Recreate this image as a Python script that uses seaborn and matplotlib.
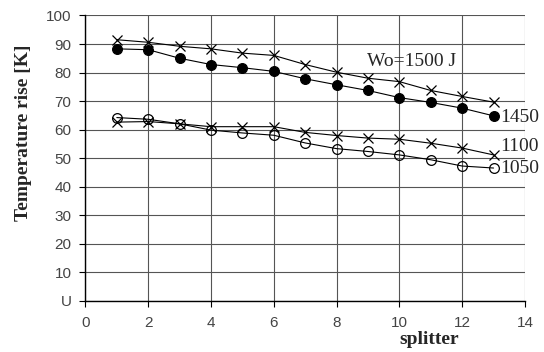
import matplotlib
matplotlib.use("Agg")
import matplotlib.pyplot as plt
import seaborn as sns
import pandas as pd

splitter = [1, 2, 3, 4, 5, 6, 7, 8, 9, 10, 11, 12, 13]
w1500 = [91.5, 90.6, 89.2, 88.3, 86.8, 86.0, 82.8, 80.1, 78.0, 76.8, 73.7, 71.6, 69.6]
w1450 = [88.3, 88.0, 85.0, 82.8, 81.7, 80.4, 77.8, 75.7, 73.7, 71.2, 69.5, 67.5, 64.8]
w1100 = [62.6, 62.8, 62.0, 61.0, 61.0, 61.0, 59.0, 57.9, 57.0, 56.6, 55.2, 53.5, 51.1]
w1050 = [64.2, 63.6, 62.0, 59.8, 58.8, 58.0, 55.3, 53.3, 52.3, 51.1, 49.4, 47.2, 46.5]
yticks = [0, 10, 20, 30, 40, 50, 60, 70, 80, 90, 100]
ytick_labels = ["U", "10", "20", "30", "40", "50", "60", "70", "80", "90", "100"]
xticks = [0, 2, 4, 6, 8, 10, 12, 14]

sns.set_theme(style="white")
plt.rcParams["font.family"] = ["Liberation Sans", "DejaVu Sans"]

fig = plt.figure(figsize=(5.44, 3.52), dpi=100)
ax = fig.add_axes([0.157, 0.146, 0.808, 0.810])

series = [
    (w1500, "x", "black", "black", 6.5),
    (w1450, "o", "black", "black", 7),
    (w1100, "x", "black", "black", 6.5),
    (w1050, "o", "none", "black", 7),
]
for vals, mk, fc, ec, ms in series:
    df = pd.DataFrame({"splitter": splitter, "rise": vals})
    sns.lineplot(data=df, x="splitter", y="rise", ax=ax, color="black", lw=0.8,
                 marker=mk, markersize=ms, markerfacecolor=fc, markeredgecolor=ec,
                 markeredgewidth=0.9)

ax.set_xlim(0, 14)
ax.set_ylim(0, 100)
ax.set_xticks(xticks)
ax.set_yticks(yticks)
ax.set_yticklabels(ytick_labels)
ax.grid(True, color="#555555", lw=0.8)
for s in ["top", "right"]:
    ax.spines[s].set_visible(False)
for s in ["left", "bottom"]:
    ax.spines[s].set_color("black")
    ax.spines[s].set_linewidth(1.0)
ax.tick_params(axis="both", which="major", direction="out", length=4, width=0.8,
               color="black", labelsize=11, labelcolor="#444444", bottom=True, left=True)
ax.tick_params(axis="x", pad=7)
ax.tick_params(axis="y", pad=6)

serif = ["Liberation Serif", "DejaVu Serif"]
ax.set_ylabel("Temperature rise [K]", fontsize=14, fontweight="bold", family=serif)
ax.yaxis.set_label_coords(-0.122, 0.587)
ax.set_xlabel("splitter", fontsize=14, fontweight="bold", family=serif)
ax.xaxis.set_label_coords(0.783, -0.105)

ax.text(10.4, 83.9, "Wo=1500 J", fontsize=14, family=serif, ha="center", va="center")
ax.text(13.22, 64.3, "1450", fontsize=14, family=serif, ha="left", va="center", clip_on=False)
ax.text(13.22, 54.0, "1100", fontsize=14, family=serif, ha="left", va="center", clip_on=False)
ax.text(13.22, 46.3, "1050", fontsize=14, family=serif, ha="left", va="center", clip_on=False)

fig.savefig("out.png", dpi=100, facecolor="white")
